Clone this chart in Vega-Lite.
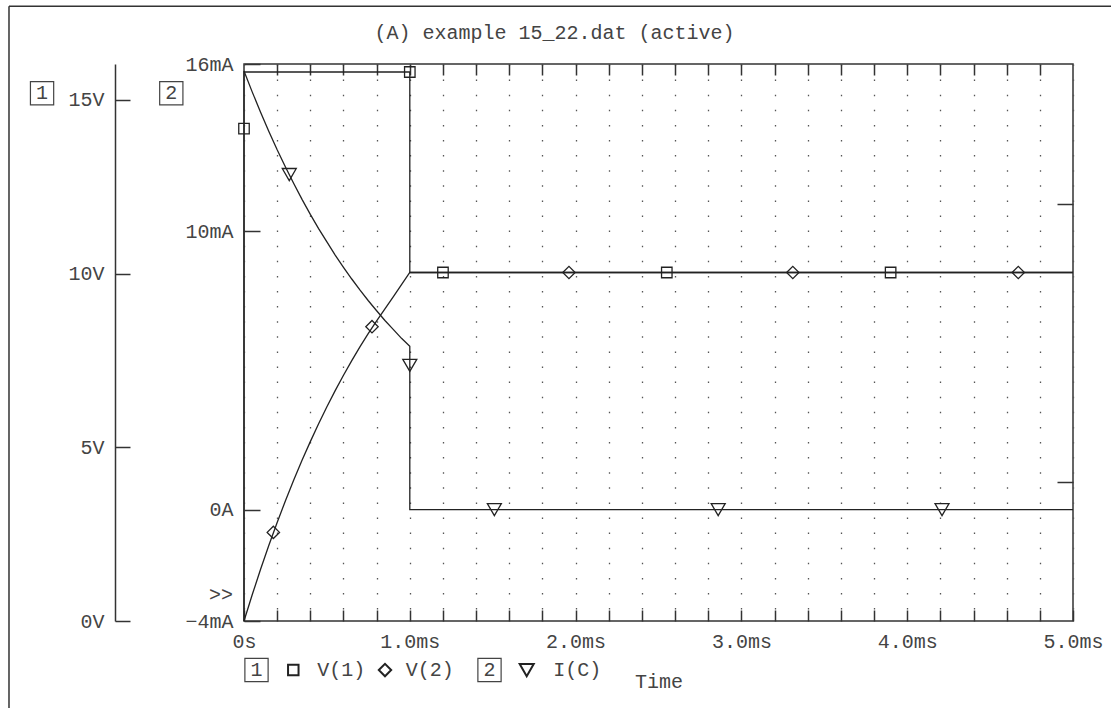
{
  "$schema": "https://vega.github.io/schema/vega-lite/v6.json",
  "width": 829,
  "height": 557,
  "autosize": "none",
  "padding": {"left": 244, "top": 64, "right": 38, "bottom": 87},
  "background": "white",
  "title": {"text": "(A) example 15_22.dat (active)", "frame": "group", "anchor": "middle", "dx": -104, "offset": -37, "font": "Liberation Mono", "fontSize": 20, "fontWeight": "normal", "color": "#444"},
  "config": {
    "view": {"stroke": "#333", "strokeWidth": 1.5},
    "font": "Liberation Mono",
    "axis": {"labelFont": "Liberation Mono", "labelFontSize": 20, "labelColor": "#444", "titleFont": "Liberation Mono", "titleFontSize": 20, "titleFontWeight": "normal", "titleColor": "#444", "domainColor": "#333", "tickColor": "#333", "domainWidth": 1.5, "tickWidth": 1.5, "grid": false, "labelFlush": false, "labelBound": false, "labelOverlap": false}
  },
  "datasets": {
    "vlines": [
      {"series": "V(1)", "k": 0, "t": 0, "v": 0},
      {"series": "V(1)", "k": 1, "t": 0, "v": 15.8},
      {"series": "V(1)", "k": 2, "t": 1, "v": 15.8},
      {"series": "V(1)", "k": 3, "t": 1, "v": 10.03},
      {"series": "V(1)", "k": 4, "t": 5, "v": 10.03},
      {"series": "V(2)", "k": 0, "t": 0, "v": 0},
      {"series": "V(2)", "k": 1, "t": 0.05, "v": 0.762},
      {"series": "V(2)", "k": 2, "t": 0.1, "v": 1.488},
      {"series": "V(2)", "k": 3, "t": 0.15, "v": 2.179},
      {"series": "V(2)", "k": 4, "t": 0.2, "v": 2.836},
      {"series": "V(2)", "k": 5, "t": 0.25, "v": 3.461},
      {"series": "V(2)", "k": 6, "t": 0.3, "v": 4.056},
      {"series": "V(2)", "k": 7, "t": 0.35, "v": 4.623},
      {"series": "V(2)", "k": 8, "t": 0.4, "v": 5.162},
      {"series": "V(2)", "k": 9, "t": 0.45, "v": 5.676},
      {"series": "V(2)", "k": 10, "t": 0.5, "v": 6.164},
      {"series": "V(2)", "k": 11, "t": 0.55, "v": 6.629},
      {"series": "V(2)", "k": 12, "t": 0.6, "v": 7.072},
      {"series": "V(2)", "k": 13, "t": 0.65, "v": 7.493},
      {"series": "V(2)", "k": 14, "t": 0.7, "v": 7.894},
      {"series": "V(2)", "k": 15, "t": 0.75, "v": 8.275},
      {"series": "V(2)", "k": 16, "t": 0.8, "v": 8.638},
      {"series": "V(2)", "k": 17, "t": 0.85, "v": 8.984},
      {"series": "V(2)", "k": 18, "t": 0.9, "v": 9.33},
      {"series": "V(2)", "k": 19, "t": 0.95, "v": 9.68},
      {"series": "V(2)", "k": 20, "t": 1.0, "v": 10.03},
      {"series": "V(2)", "k": 21, "t": 5.0, "v": 10.03}
    ],
    "iline": [
      {"k": 0, "t": 0, "i": 15.75},
      {"k": 1, "t": 0.05, "i": 14.99},
      {"k": 2, "t": 0.1, "i": 14.27},
      {"k": 3, "t": 0.15, "i": 13.58},
      {"k": 4, "t": 0.2, "i": 12.92},
      {"k": 5, "t": 0.25, "i": 12.3},
      {"k": 6, "t": 0.3, "i": 11.71},
      {"k": 7, "t": 0.35, "i": 11.14},
      {"k": 8, "t": 0.4, "i": 10.6},
      {"k": 9, "t": 0.45, "i": 10.09},
      {"k": 10, "t": 0.5, "i": 9.61},
      {"k": 11, "t": 0.55, "i": 9.14},
      {"k": 12, "t": 0.6, "i": 8.7},
      {"k": 13, "t": 0.65, "i": 8.28},
      {"k": 14, "t": 0.7, "i": 7.88},
      {"k": 15, "t": 0.75, "i": 7.5},
      {"k": 16, "t": 0.8, "i": 7.14},
      {"k": 17, "t": 0.85, "i": 6.79},
      {"k": 18, "t": 0.9, "i": 6.47},
      {"k": 19, "t": 0.95, "i": 6.15},
      {"k": 20, "t": 1.0, "i": 5.86},
      {"k": 21, "t": 1.0, "i": 0},
      {"k": 22, "t": 5.0, "i": 0}
    ],
    "vmarks": [
      {"series": "V(1)", "t": 0, "v": 14.17},
      {"series": "V(1)", "t": 1.0, "v": 15.8},
      {"series": "V(1)", "t": 1.2, "v": 10.03},
      {"series": "V(1)", "t": 2.55, "v": 10.03},
      {"series": "V(1)", "t": 3.9, "v": 10.03},
      {"series": "V(2)", "t": 0.177, "v": 2.55},
      {"series": "V(2)", "t": 0.772, "v": 8.47},
      {"series": "V(2)", "t": 1.96, "v": 10.03},
      {"series": "V(2)", "t": 3.31, "v": 10.03},
      {"series": "V(2)", "t": 4.67, "v": 10.03}
    ],
    "imarks": [
      {"series": "I(C)", "t": 0.273, "i": 12.03},
      {"series": "I(C)", "t": 1.0, "i": 5.18},
      {"series": "I(C)", "t": 1.51, "i": 0},
      {"series": "I(C)", "t": 2.86, "i": 0},
      {"series": "I(C)", "t": 4.21, "i": 0}
    ],
    "border": [
      {"t": -1.4174, "t2": 5.4, "v": 17.69, "v2": 17.69},
      {"t": -1.4174, "t2": -1.4174, "v": 17.69, "v2": -2.7}
    ],
    "boxes": [
      {"label": "1", "t": -1.218, "v": 15.19},
      {"label": "2", "t": -0.4385, "v": 15.19},
      {"label": "1", "t": 0.0754, "v": -1.412},
      {"label": "2", "t": 1.4807, "v": -1.412}
    ],
    "legsyms": [
      {"series": "V(1)", "t": 0.2973, "v": -1.412},
      {"series": "V(2)", "t": 0.8504, "v": -1.412},
      {"series": "I(C)", "t": 1.7051, "v": -1.412}
    ],
    "texts": [
      {"label": "V(1)", "t": 0.4421, "v": -1.412},
      {"label": "V(2)", "t": 0.9753, "v": -1.412},
      {"label": "I(C)", "t": 1.8655, "v": -1.412},
      {"label": ">>", "t": -0.2111, "v": 0.749}
    ]
  },
  "layer": [
    {
      "data": {"name": "vlines"},
      "mark": {"type": "line", "stroke": "#222", "strokeWidth": 1.3},
      "encoding": {
        "x": {"field": "t", "type": "quantitative", "scale": {"domain": [0, 5], "nice": false, "zero": false},
          "axis": {"orient": "bottom", "values": [0, 0.2, 0.4, 0.6, 0.8, 1, 1.2, 1.4, 1.6, 1.8, 2, 2.2, 2.4, 2.6, 2.8, 3, 3.2, 3.4, 3.6, 3.8, 4, 4.2, 4.4, 4.6, 4.8, 5],
            "tickSize": -11, "labelPadding": 21, "domain": false, "grid": true, "gridDash": [1.5, 13.6], "gridColor": "#555", "gridWidth": 1.3,
            "labelExpr": "abs(datum.value - round(datum.value)) < 0.001 ? (datum.value < 0.001 ? '0s' : format(datum.value, '.1f') + 'ms') : ''",
            "title": "Time", "titlePadding": 20}},
        "y": {"field": "v", "type": "quantitative", "scale": {"domain": [0, 16.03], "nice": false, "zero": false},
          "axis": {"orient": "left", "offset": 129, "values": [0, 5, 10, 15], "labelExpr": "datum.value + 'V'", "tickSize": -15, "labelPadding": 26, "domain": true, "title": null}},
        "detail": {"field": "series", "type": "nominal"},
        "order": {"field": "k", "type": "quantitative"}
      }
    },
    {
      "data": {"name": "iline"},
      "mark": {"type": "line", "stroke": "#222", "strokeWidth": 1.3},
      "encoding": {
        "x": {"field": "t", "type": "quantitative", "scale": {"domain": [0, 5], "nice": false, "zero": false},
          "axis": {"orient": "top", "values": [0.2, 0.4, 0.6, 0.8, 1, 1.2, 1.4, 1.6, 1.8, 2, 2.2, 2.4, 2.6, 2.8, 3, 3.2, 3.4, 3.6, 3.8, 4, 4.2, 4.4, 4.6, 4.8],
            "tickSize": -11, "labels": false, "domain": false, "grid": false, "title": null}},
        "y": {"field": "i", "type": "quantitative", "scale": {"domain": [-4, 16], "nice": false, "zero": false},
          "axis": {"orient": "left", "offset": 0, "values": [-4, 0, 10, 16], "labelExpr": "datum.value == 0 ? '0A' : (datum.value < 0 ? '\u2212' + abs(datum.value) + 'mA' : datum.value + 'mA')", "tickSize": -16, "labelPadding": 27, "domain": false, "title": null}},
        "order": {"field": "k", "type": "quantitative"}
      }
    },
    {
      "data": {"name": "vmarks"},
      "mark": {"type": "point", "filled": false, "stroke": "#222", "strokeWidth": 1.3, "opacity": 1},
      "encoding": {
        "x": {"field": "t", "type": "quantitative", "scale": {"domain": [0, 5], "nice": false, "zero": false}, "axis": null},
        "y": {"field": "v", "type": "quantitative", "scale": {"domain": [0, 16.03], "nice": false, "zero": false},
          "axis": {"orient": "right", "values": [4, 12], "tickSize": -16, "labels": false, "domain": false, "title": null}},
        "shape": {"field": "series", "type": "nominal", "scale": {"domain": ["V(1)", "V(2)", "I(C)"], "range": ["square", "diamond", "triangle-down"]}, "legend": null},
        "size": {"field": "series", "type": "nominal", "scale": {"domain": ["V(1)", "V(2)", "I(C)"], "range": [110, 196, 144]}, "legend": null}
      }
    },
    {
      "data": {"name": "imarks"},
      "mark": {"type": "point", "filled": false, "stroke": "#222", "strokeWidth": 1.3, "opacity": 1},
      "encoding": {
        "x": {"field": "t", "type": "quantitative", "scale": {"domain": [0, 5], "nice": false, "zero": false}, "axis": null},
        "y": {"field": "i", "type": "quantitative", "scale": {"domain": [-4, 16], "nice": false, "zero": false}, "axis": null},
        "shape": {"field": "series", "type": "nominal", "scale": {"domain": ["V(1)", "V(2)", "I(C)"], "range": ["square", "diamond", "triangle-down"]}, "legend": null},
        "size": {"field": "series", "type": "nominal", "scale": {"domain": ["V(1)", "V(2)", "I(C)"], "range": [110, 196, 144]}, "legend": null}
      }
    },
    {
      "data": {"name": "border"},
      "mark": {"type": "rule", "stroke": "#333", "strokeWidth": 1.5},
      "encoding": {
        "x": {"field": "t", "type": "quantitative", "scale": {"domain": [0, 5], "nice": false, "zero": false}, "axis": null},
        "x2": {"field": "t2"},
        "y": {"field": "v", "type": "quantitative", "scale": {"domain": [0, 16.03], "nice": false, "zero": false}, "axis": null},
        "y2": {"field": "v2"}
      }
    },
    {
      "data": {"name": "boxes"},
      "mark": {"type": "point", "shape": "square", "size": 540, "filled": false, "stroke": "#444", "strokeWidth": 1.2, "opacity": 1},
      "encoding": {
        "x": {"field": "t", "type": "quantitative", "scale": {"domain": [0, 5], "nice": false, "zero": false}, "axis": null},
        "y": {"field": "v", "type": "quantitative", "scale": {"domain": [0, 16.03], "nice": false, "zero": false}, "axis": null}
      }
    },
    {
      "data": {"name": "boxes"},
      "mark": {"type": "text", "font": "Liberation Mono", "fontSize": 20, "color": "#444", "align": "center", "baseline": "middle"},
      "encoding": {
        "x": {"field": "t", "type": "quantitative", "scale": {"domain": [0, 5], "nice": false, "zero": false}, "axis": null},
        "y": {"field": "v", "type": "quantitative", "scale": {"domain": [0, 16.03], "nice": false, "zero": false}, "axis": null},
        "text": {"field": "label"}
      }
    },
    {
      "data": {"name": "legsyms"},
      "mark": {"type": "point", "filled": false, "stroke": "#222", "strokeWidth": 2, "opacity": 1},
      "encoding": {
        "x": {"field": "t", "type": "quantitative", "scale": {"domain": [0, 5], "nice": false, "zero": false}, "axis": null},
        "y": {"field": "v", "type": "quantitative", "scale": {"domain": [0, 16.03], "nice": false, "zero": false}, "axis": null},
        "shape": {"field": "series", "type": "nominal", "scale": {"domain": ["V(1)", "V(2)", "I(C)"], "range": ["square", "diamond", "triangle-down"]}, "legend": null},
        "size": {"field": "series", "type": "nominal", "scale": {"domain": ["V(1)", "V(2)", "I(C)"], "range": [110, 196, 144]}, "legend": null}
      }
    },
    {
      "data": {"name": "texts"},
      "mark": {"type": "text", "font": "Liberation Mono", "fontSize": 20, "color": "#444", "align": "left", "baseline": "middle"},
      "encoding": {
        "x": {"field": "t", "type": "quantitative", "scale": {"domain": [0, 5], "nice": false, "zero": false}, "axis": null},
        "y": {"field": "v", "type": "quantitative", "scale": {"domain": [0, 16.03], "nice": false, "zero": false}, "axis": null},
        "text": {"field": "label"}
      }
    }
  ],
  "resolve": {"scale": {"y": "independent"}, "axis": {"x": "independent", "y": "independent"}}
}
